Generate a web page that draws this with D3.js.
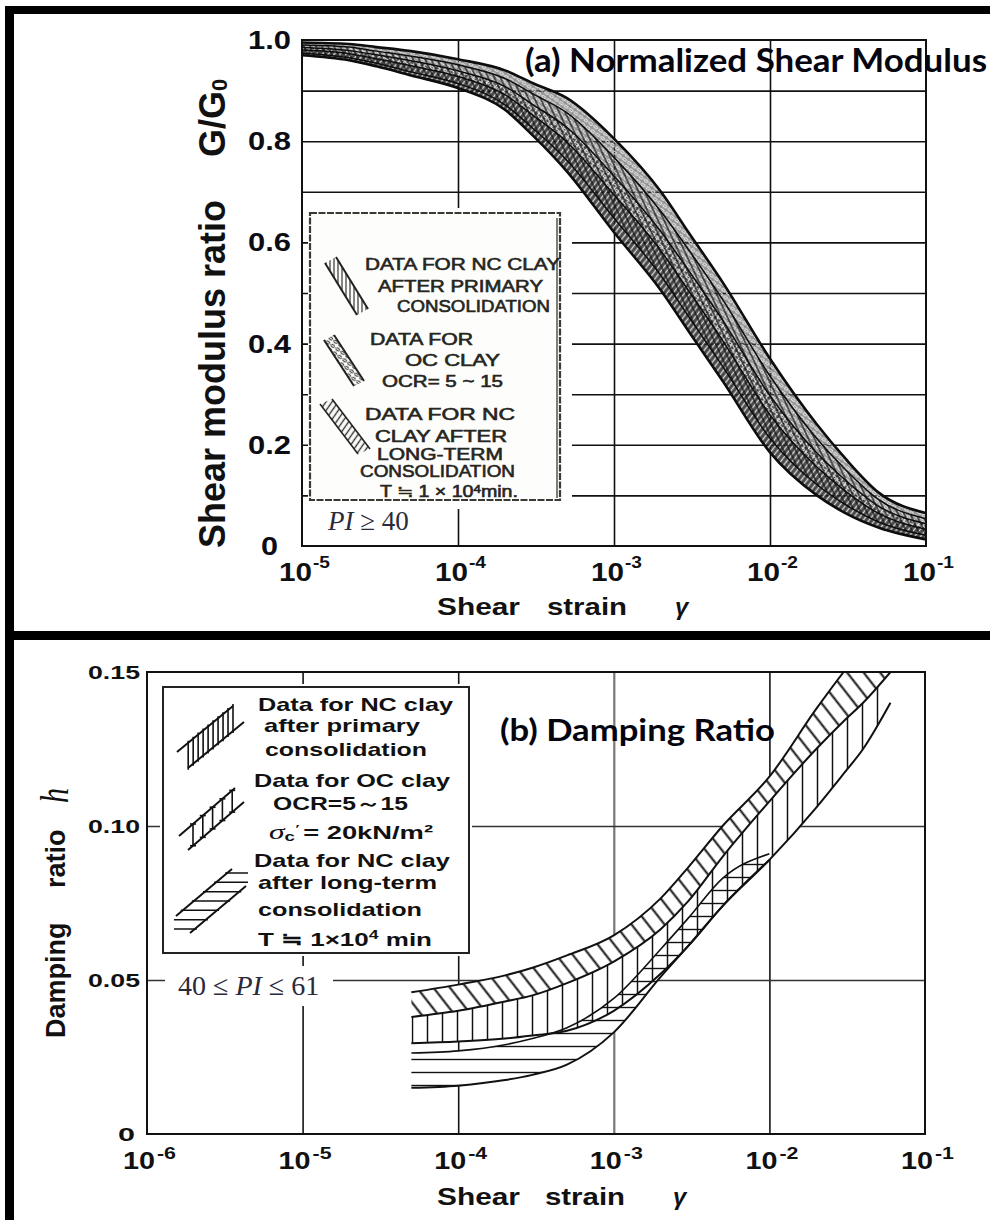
<!DOCTYPE html>
<html><head><meta charset="utf-8">
<script src="https://cdn.jsdelivr.net/npm/d3@7/dist/d3.min.js"></script>
<style>html,body{margin:0;padding:0;background:#fff;} svg{display:block;}</style>
</head><body>
<svg id="chart" width="990" height="1220"></svg>
<script>
// ================= DATA =================
// (a) Normalized shear modulus G/G0 bands
const strainA = [1e-5, 2e-5, 3e-5, 5e-5, 1e-4, 2e-4, 3e-4, 5e-4, 1e-3, 2e-3, 3e-3, 5e-3, 1e-2, 2e-2, 3e-2, 5e-2, 1e-1];
const ncPrimaryLowA  = [0.970,0.960,0.948,0.930,0.905,0.862,0.812,0.740,0.620,0.505,0.425,0.325,0.185,0.100,0.066,0.036,0.013];
const ncPrimaryHighA = [0.985,0.979,0.971,0.959,0.939,0.908,0.873,0.827,0.731,0.621,0.545,0.445,0.297,0.184,0.132,0.078,0.044];
const ocLowA         = [0.980,0.973,0.963,0.949,0.928,0.892,0.852,0.798,0.694,0.583,0.505,0.405,0.259,0.156,0.110,0.064,0.033];
const ocHighA        = [0.995,0.992,0.986,0.978,0.962,0.940,0.915,0.885,0.805,0.700,0.620,0.520,0.370,0.240,0.175,0.105,0.065];
const longTermLowA   = [0.974,0.965,0.954,0.937,0.914,0.872,0.826,0.762,0.648,0.534,0.454,0.354,0.213,0.121,0.083,0.047,0.021];
const longTermHighA  = [0.990,0.986,0.978,0.968,0.951,0.924,0.894,0.856,0.768,0.661,0.586,0.486,0.336,0.212,0.153,0.091,0.054];

// (b) Damping ratio h bands
const strainB = [5e-5, 1e-4, 2e-4, 3e-4, 5e-4, 1e-3, 2e-3, 3e-3, 5e-3, 1e-2, 2e-2, 3e-2, 4e-2, 6e-2];
const ncPrimaryLowB  = [0.0295,0.0300,0.0310,0.0320,0.0335,0.0400,0.0520,0.0610,0.0740,0.0890,0.1060,0.1170,0.1250,0.1400];
const ncPrimaryHighB = [0.0380,0.0400,0.0430,0.0450,0.0490,0.0560,0.0665,0.0755,0.0900,0.1080,0.1250,0.1340,0.1400,0.1500];
const ocLowB         = [0.0380,0.0400,0.0430,0.0450,0.0490,0.0560,0.0665,0.0755,0.0900,0.1080,0.1250,0.1340,0.1400,0.1500];
const ocHighB        = [0.0460,0.0485,0.0515,0.0540,0.0580,0.0645,0.0765,0.0865,0.1000,0.1160,0.1380,0.1500,0.1580,0.1700];
const longTermStrainB = [5e-5, 1e-4, 2e-4, 3e-4, 5e-4, 1e-3, 2e-3, 3e-3, 5e-3, 1e-2];
const longTermLowB   = [0.0150,0.0157,0.0175,0.0192,0.0225,0.0330,0.0510,0.0610,0.0740,0.0890];
const longTermHighB  = [0.0263,0.0270,0.0290,0.0310,0.0345,0.0440,0.0600,0.0700,0.0830,0.0910];

// ticks
const xDecadesA = [1e-5, 1e-4, 1e-3, 1e-2, 1e-1];
const xExpA = ["-5", "-4", "-3", "-2", "-1"];
const yTickValsA = [0, 0.2, 0.4, 0.6, 0.8, 1.0];
const yTickLabelsA = ["0", "0.2", "0.4", "0.6", "0.8", "1.0"];
const yGridA = [0.1, 0.2, 0.3, 0.4, 0.5, 0.6, 0.7, 0.8, 0.9];
const xGridA = [1e-4, 1e-3, 1e-2];

const xDecadesB = [1e-6, 1e-5, 1e-4, 1e-3, 1e-2, 1e-1];
const xExpB = ["-6", "-5", "-4", "-3", "-2", "-1"];
const yTickValsB = [0, 0.05, 0.10, 0.15];
const yTickLabelsB = ["0", "0.05", "0.10", "0.15"];
const yGridB = [0.05, 0.10];
const xGridB = [1e-5, 1e-4, 1e-3, 1e-2];

// legend texts
const legendTextA = ["DATA FOR NC CLAY", "AFTER PRIMARY", "CONSOLIDATION", "DATA FOR", "OC CLAY", "OCR= 5 ~ 15",
  "DATA FOR NC", "CLAY AFTER", "LONG-TERM", "CONSOLIDATION", "T ≒ 1 × 10^4min."];
const legendTextB = ["Data for NC clay", "after primary", "consolidation", "Data for OC clay", "OCR=5～15", "SIGMA",
  "Data for NC clay", "after long-term", "consolidation", "T ≒ 1×10^4 min"];

// ================= LAYOUT =================
const svg = d3.select("#chart");
const defs = svg.append("defs");
const SANS = "'Liberation Sans', Arial, sans-serif";
const SERIF = "'Liberation Serif', 'Times New Roman', serif";
const TITLE = "Lato, 'Open Sans', sans-serif";

function linePattern(id, spacing, angle, color, width) {
  const p = defs.append("pattern").attr("id", id).attr("patternUnits", "userSpaceOnUse")
    .attr("width", spacing).attr("height", spacing).attr("patternTransform", `rotate(${angle})`);
  p.append("line").attr("x1", spacing / 2).attr("y1", -1).attr("x2", spacing / 2).attr("y2", spacing + 1)
    .attr("stroke", color).attr("stroke-width", width);
}
function ringPattern(id, color, w) {
  const rp = defs.append("pattern").attr("id", id).attr("patternUnits", "userSpaceOnUse")
    .attr("width", 6).attr("height", 5).attr("patternTransform", "rotate(35)");
  rp.append("ellipse").attr("cx", 3).attr("cy", 2.5).attr("rx", 2.1).attr("ry", 1.3)
    .attr("fill", "none").attr("stroke", color).attr("stroke-width", w);
}
linePattern("hatchLightA", 4.6, 38, "#d8d8d8", 1.4);
linePattern("hatchDarkA", 5.5, -25, "#111", 1.2);
ringPattern("ringsLightA", "#e6e6e6", 1.1);
ringPattern("ringsA", "#222", 1);
linePattern("vertB", 15, 0, "#111", 1.5);
linePattern("horizB", 13, 90, "#111", 1.4);
linePattern("ocB", 13, -38, "#111", 2);
linePattern("legVertA", 4, 0, "#333", 1.2);
linePattern("legDiagA", 5, 35, "#333", 1.4);

// text helper; "^" marks a one-character superscript (e.g. "10^4min.")
function label(g, s, o) {
  const t = g.append("text").attr("x", o.x).attr("y", o.y)
    .attr("font-family", o.family || SANS).attr("font-size", o.size)
    .attr("font-weight", o.weight || "bold").attr("font-style", o.style || "normal")
    .attr("text-anchor", o.anchor || "start").attr("fill", o.fill || "#111");
  if (s.includes("^")) {
    const [pre, rest] = s.split("^");
    const up = o.supShift || o.size * 0.38;
    t.append("tspan").text(pre);
    t.append("tspan").attr("font-size", o.size * 0.68).attr("dy", -up).text(rest[0]);
    t.append("tspan").attr("dy", up).text(rest.slice(1));
  } else {
    t.text(s);
  }
  if (o.width) t.attr("textLength", o.width).attr("lengthAdjust", "spacingAndGlyphs");
  if (o.transform) t.attr("transform", o.transform);
  if (o.stroke) t.attr("stroke", o.fill || "#111").attr("stroke-width", o.stroke);
  return t;
}

// ----- frame -----
svg.append("rect").attr("x", 5).attr("y", 6).attr("width", 985).attr("height", 8).attr("fill", "#000");
svg.append("rect").attr("x", 5).attr("y", 6).attr("width", 9).attr("height", 1214).attr("fill", "#000");
svg.append("rect").attr("x", 5).attr("y", 631).attr("width", 985).attr("height", 9).attr("fill", "#000");

// ================= PANEL (a) =================
const xA = d3.scaleLog().domain([1e-5, 1e-1]).range([302, 926]);
const yA = d3.scaleLinear().domain([0, 1]).range([546, 40]);
const gA = svg.append("g");

defs.append("clipPath").attr("id", "clipA").append("rect")
  .attr("x", 302).attr("y", 40).attr("width", 624).attr("height", 506);

gA.append("g").attr("transform", "translate(0,546)")
  .call(d3.axisBottom(xA).tickValues(xGridA).tickSize(-(546 - 40)).tickFormat(""))
  .call(g => g.select(".domain").remove())
  .selectAll(".tick line").attr("stroke", "#111").attr("stroke-width", 1.6);
gA.append("g").attr("transform", "translate(302,0)")
  .call(d3.axisLeft(yA).tickValues(yGridA).tickSize(-(926 - 302)).tickFormat(""))
  .call(g => g.select(".domain").remove())
  .selectAll(".tick line").attr("stroke", "#111").attr("stroke-width", 1.6);

function bandPath(g, x, y, strain, lo, hi, fill, opacity) {
  const data = strain.map((s, i) => ({ s, lo: lo[i], hi: hi[i] }));
  const area = d3.area().x(d => x(d.s)).y0(d => y(d.lo)).y1(d => y(d.hi)).curve(d3.curveMonotoneX);
  g.append("path").attr("d", area(data)).attr("fill", fill).attr("fill-opacity", opacity == null ? 1 : opacity);
}
function edge(g, x, y, strain, vals, w, color) {
  const line = d3.line().x((d, i) => x(strain[i])).y(d => y(d)).curve(d3.curveMonotoneX);
  g.append("path").attr("d", line(vals)).attr("fill", "none").attr("stroke", color).attr("stroke-width", w);
}

const bandsA = gA.append("g").attr("clip-path", "url(#clipA)");
bandPath(bandsA, xA, yA, strainA, ncPrimaryLowA, ncPrimaryHighA, "#1e1e1e", 0.82);
bandPath(bandsA, xA, yA, strainA, ocLowA, ocHighA, "#3a3a3a", 0.55);
bandPath(bandsA, xA, yA, strainA, ncPrimaryLowA, ncPrimaryHighA, "url(#hatchLightA)");
bandPath(bandsA, xA, yA, strainA, ocLowA, ocHighA, "url(#ringsLightA)");
bandPath(bandsA, xA, yA, strainA, longTermLowA, longTermHighA, "url(#hatchDarkA)");
[ncPrimaryLowA, ncPrimaryHighA, ocLowA, ocHighA, longTermLowA, longTermHighA].forEach((v, i) =>
  edge(bandsA, xA, yA, strainA, v, i === 0 || i === 3 ? 2.6 : 1.5, "#0d0d0d"));

// legend (a)
gA.append("rect").attr("x", 308).attr("y", 208).attr("width", 264).attr("height", 301).attr("fill", "#fff");
gA.append("rect").attr("x", 310).attr("y", 213).attr("width", 250).attr("height", 287)
  .attr("fill", "#fdfdfb").attr("stroke", "#3a3a34").attr("stroke-width", 2.2).attr("stroke-dasharray", "7 1.5");
gA.append("line").attr("x1", 557).attr("x2", 557).attr("y1", 218).attr("y2", 498).attr("stroke", "#55554a").attr("stroke-width", 1.5);

const legLayoutA = [[365, 560, 270], [378, 543, 292], [397, 550, 312], [370, 473, 345], [405, 500, 366], [382, 503, 387],
  [365, 515, 420], [375, 507, 442], [377, 503, 460], [360, 515, 477], [380, 518, 497]];
legendTextA.forEach((s, i) => {
  const [x1, x2, yb] = legLayoutA[i];
  label(gA, s, { x: x1, y: yb, size: 16, weight: "normal", width: x2 - x1, fill: "#26261f", stroke: 0.6, supShift: 4.5 });
});

function ribbon(g, p0, dir, off, fill, w) {
  const pts = [p0, [p0[0] + dir[0], p0[1] + dir[1]], [p0[0] + dir[0] + off[0], p0[1] + dir[1] + off[1]], [p0[0] + off[0], p0[1] + off[1]]];
  g.append("path").attr("d", "M" + pts.map(p => p.join(",")).join("L") + "Z").attr("fill", fill);
  g.append("line").attr("x1", pts[0][0]).attr("y1", pts[0][1]).attr("x2", pts[1][0]).attr("y2", pts[1][1]).attr("stroke", "#222").attr("stroke-width", w);
  g.append("line").attr("x1", pts[3][0]).attr("y1", pts[3][1]).attr("x2", pts[2][0]).attr("y2", pts[2][1]).attr("stroke", "#222").attr("stroke-width", w);
}
ribbon(gA, [325, 263], [32, 52], [11, -6], "url(#legVertA)", 2);
ribbon(gA, [324, 340], [30, 46], [10, -5], "url(#ringsA)", 2);
ribbon(gA, [320, 404], [38, 50], [12, -5], "url(#legDiagA)", 1.6);

gA.append("rect").attr("x", 302).attr("y", 40).attr("width", 624).attr("height", 506)
  .attr("fill", "none").attr("stroke", "#111").attr("stroke-width", 2);

{
  const t = gA.append("text").attr("x", 328).attr("y", 530).attr("font-family", SERIF).attr("font-size", 27).attr("fill", "#2a2a3a");
  t.append("tspan").attr("font-style", "italic").text("PI");
  t.append("tspan").text(" ≥ 40");
}

yTickValsA.forEach((v, i) => {
  const isZero = yTickLabelsA[i] === "0";
  label(gA, yTickLabelsA[i], { x: isZero ? 278 : 291, y: yA(v) + 9, size: 25, anchor: "end", width: isZero ? 17 : 43, fill: "#0c0c14" });
});
xDecadesA.forEach((d, i) => {
  const x0 = xA(d) - 23;
  label(gA, "10", { x: x0, y: 581, size: 25, width: 33 });
  label(gA, xExpA[i], { x: x0 + 34, y: 568, size: 16, width: 17 });
});
label(gA, "Shear", { x: 437, y: 615, size: 23, width: 83 });
label(gA, "strain", { x: 547, y: 615, size: 23, width: 80 });
label(gA, "γ", { x: 675, y: 615, size: 24, style: "italic" });
label(gA, "Shear modulus ratio", { x: 0, y: 0, size: 36, transform: "translate(225,548) rotate(-90)" });
{
  const t = label(gA, "G/G", { x: 0, y: 0, size: 36, transform: "translate(225,157) rotate(-90)" });
  t.append("tspan").attr("font-size", 22).attr("dy", 2).text("0");
}
label(gA, "(a) Normalized Shear Modulus", { x: 525, y: 72, size: 32, family: TITLE, width: 462, fill: "#050510" });

// ================= PANEL (b) =================
const xB = d3.scaleLog().domain([1e-6, 1e-1]).range([147, 925]);
const yB = d3.scaleLinear().domain([0, 0.15]).range([1134, 672]);
const gB = svg.append("g");
defs.append("clipPath").attr("id", "clipB").append("rect")
  .attr("x", 147).attr("y", 672).attr("width", 778).attr("height", 462);

gB.append("g").attr("transform", "translate(0,1134)")
  .call(d3.axisBottom(xB).tickValues(xGridB).tickSize(-(1134 - 672)).tickFormat(""))
  .call(g => g.select(".domain").remove())
  .selectAll(".tick line")
  .attr("stroke", d => d === 1e-3 ? "#777" : "#151515")
  .attr("stroke-width", d => d === 1e-3 ? 2.2 : 1.6);
gB.append("g").attr("transform", "translate(147,0)")
  .call(d3.axisLeft(yB).tickValues(yGridB).tickSize(-(925 - 147)).tickFormat(""))
  .call(g => g.select(".domain").remove())
  .selectAll(".tick line").attr("stroke", "#333").attr("stroke-width", 1.6);

gB.append("rect").attr("x", 165).attr("y", 966).attr("width", 168).attr("height", 40).attr("fill", "#fff");
{
  const t = gB.append("text").attr("x", 178).attr("y", 995).attr("font-family", SERIF).attr("font-size", 28).attr("fill", "#2a2a3a");
  t.append("tspan").text("40 ≤ ");
  t.append("tspan").attr("font-style", "italic").text("PI");
  t.append("tspan").text(" ≤ 61");
}

const bandsB = gB.append("g").attr("clip-path", "url(#clipB)");
bandPath(bandsB, xB, yB, strainB, ncPrimaryLowB, ncPrimaryHighB, "#fff");
bandPath(bandsB, xB, yB, strainB, ocLowB, ocHighB, "#fff");
bandPath(bandsB, xB, yB, longTermStrainB, longTermLowB, longTermHighB, "#fff");
bandPath(bandsB, xB, yB, longTermStrainB, longTermLowB, longTermHighB, "url(#horizB)");
bandPath(bandsB, xB, yB, strainB, ncPrimaryLowB, ncPrimaryHighB, "url(#vertB)");
bandPath(bandsB, xB, yB, strainB, ocLowB, ocHighB, "url(#ocB)");
edge(bandsB, xB, yB, longTermStrainB, longTermLowB, 2, "#111");
edge(bandsB, xB, yB, longTermStrainB, longTermHighB, 1.6, "#111");
edge(bandsB, xB, yB, strainB, ncPrimaryLowB, 2, "#111");
edge(bandsB, xB, yB, strainB, ncPrimaryHighB, 2, "#111");
edge(bandsB, xB, yB, strainB, ocHighB, 2, "#111");

gB.append("rect").attr("x", 160).attr("y", 684).attr("width", 312).attr("height", 272).attr("fill", "#fff");
gB.append("rect").attr("x", 163).attr("y", 687).attr("width", 306).attr("height", 266)
  .attr("fill", "#fff").attr("stroke", "#222").attr("stroke-width", 2);

const legLayoutB = [[258, 453, 711], [264, 420, 732], [265, 427, 756], [254, 450, 787], [273, 408, 810], [269, 433, 839],
  [254, 450, 867], [258, 437, 889], [258, 422, 916], [258, 432, 946]];
legendTextB.forEach((s, i) => {
  const [x1, x2, yb] = legLayoutB[i];
  if (s === "SIGMA") {
    const t = gB.append("text").attr("x", x1).attr("y", yb).attr("font-family", SANS).attr("font-weight", "bold")
      .attr("font-size", 19).attr("fill", "#111");
    t.append("tspan").attr("font-family", SERIF).attr("font-style", "italic").attr("font-weight", "normal").attr("font-size", 22).text("σ");
    t.append("tspan").attr("font-size", 13).attr("dy", 2).text("c");
    t.append("tspan").attr("font-family", SERIF).attr("font-size", 13).attr("dy", -8).text("′");
    t.append("tspan").attr("dx", 2).attr("dy", 6).text("= 20kN/m²");
    t.attr("textLength", x2 - x1).attr("lengthAdjust", "spacingAndGlyphs");
  } else {
    label(gB, s, { x: x1, y: yb, size: 19, width: x2 - x1 });
  }
});

function legendSymB(g, p0, dir, off, type) {
  const L1 = t => [p0[0] + t * dir[0], p0[1] + t * dir[1]];
  const q0 = [p0[0] + off[0], p0[1] + off[1]];
  const sym = g.append("g").attr("stroke", "#111").attr("fill", "none");
  sym.append("line").attr("x1", p0[0]).attr("y1", p0[1]).attr("x2", p0[0] + dir[0]).attr("y2", p0[1] + dir[1]).attr("stroke-width", 2);
  sym.append("line").attr("x1", q0[0]).attr("y1", q0[1]).attr("x2", q0[0] + dir[0]).attr("y2", q0[1] + dir[1]).attr("stroke-width", 2);
  if (type === "vert" || type === "ladder") {
    const n = type === "vert" ? 10 : 5;
    for (let i = 0; i < n; i++) {
      const t = type === "vert" ? 0.2 + i * 0.8 / (n - 1) : 0.25 + i * 0.7 / (n - 1);
      const P = L1(t);
      const s = (P[0] - q0[0]) / dir[0];
      if (s > 1.05) continue;
      const Qy = q0[1] + s * dir[1];
      const ext = type === "vert" ? 2 : 0;
      sym.append("line").attr("x1", P[0]).attr("y1", P[1] - ext).attr("x2", P[0]).attr("y2", Qy + ext).attr("stroke-width", 1.6);
      if (type === "ladder") {
        sym.append("line").attr("x1", P[0] - 3).attr("x2", P[0] + 3).attr("y1", P[1]).attr("y2", P[1]).attr("stroke-width", 1.6);
        sym.append("line").attr("x1", P[0] - 3).attr("x2", P[0] + 3).attr("y1", Qy).attr("y2", Qy).attr("stroke-width", 1.6);
      }
    }
  } else {
    const n = 7;
    const yTop = p0[1] + dir[1] + 4, yBot = q0[1] - 4;
    for (let i = 0; i < n; i++) {
      const yy = yTop + i * (yBot - yTop) / (n - 1);
      const t1 = (yy - p0[1]) / dir[1], t2 = (yy - q0[1]) / dir[1];
      const x1 = p0[0] + Math.max(0, Math.min(1, t1)) * dir[0];
      const x2 = q0[0] + Math.max(0, Math.min(1, t2)) * dir[0];
      sym.append("line").attr("x1", x1 - 2).attr("x2", x2 + 2).attr("y1", yy).attr("y2", yy).attr("stroke-width", 1.5);
    }
  }
}
legendSymB(gB, [177, 752], [56, -46], [11, 16], "vert");
legendSymB(gB, [179, 836], [56, -48], [9, 14], "ladder");
legendSymB(gB, [176, 916], [56, -47], [14, 17], "horiz");

gB.append("rect").attr("x", 147).attr("y", 672).attr("width", 778).attr("height", 462)
  .attr("fill", "none").attr("stroke", "#111").attr("stroke-width", 2);

yTickValsB.forEach((v, i) => {
  const isZero = yTickLabelsB[i] === "0";
  label(gB, yTickLabelsB[i], { x: isZero ? 135 : 140, y: yB(v) + 7, size: 19, anchor: "end", width: isZero ? 17 : 52 });
});
xDecadesB.forEach((d, i) => {
  const x0 = xB(d) - 24;
  label(gB, "10", { x: x0, y: 1169, size: 24, width: 32 });
  label(gB, xExpB[i], { x: x0 + 34, y: 1159, size: 17, width: 19 });
});
label(gB, "Shear", { x: 437, y: 1205, size: 23, width: 83 });
label(gB, "strain", { x: 545, y: 1205, size: 23, width: 80 });
label(gB, "γ", { x: 673, y: 1205, size: 24, style: "italic" });
label(gB, "Damping", { x: 0, y: 0, size: 27, transform: "translate(65,1038) rotate(-90)" });
label(gB, "ratio", { x: 0, y: 0, size: 27, transform: "translate(65,888) rotate(-90)" });
label(gB, "h", { x: 0, y: 0, size: 30, family: SERIF, style: "italic", weight: "normal", transform: "translate(68,803) rotate(-90) scale(1,1.3)" });
label(gB, "(b) Damping Ratio", { x: 500, y: 741, size: 30, family: TITLE, width: 275, fill: "#050510" });
</script>
</body></html>
